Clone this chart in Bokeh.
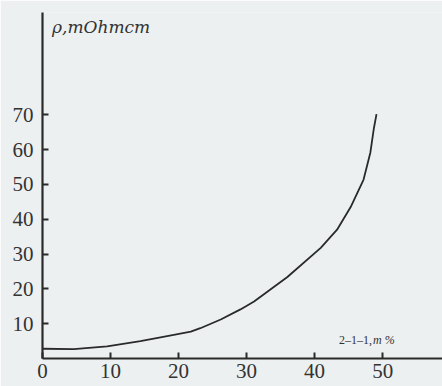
from bokeh.plotting import figure
from bokeh.models import Range1d, FixedTicker, Label
from bokeh.embed import file_html
from bokeh.resources import INLINE

# data
content_pct = [0, 4.6, 9.5, 14.4, 19.3, 21.8, 23.2, 26.2, 29.1, 31.1, 36.0, 40.9, 43.3, 45.3, 47.2, 48.2, 48.7, 49.1]
resistivity = [2.8, 2.7, 3.5, 5.0, 6.8, 7.7, 8.7, 11.2, 14.1, 16.4, 23.4, 31.8, 37.0, 43.5, 51.4, 59.2, 66.0, 70.2]
x_ticks = [0, 10, 20, 30, 40, 50]
y_ticks = [10, 20, 30, 40, 50, 60, 70]
y_title = "ρ,mOhmcm"
x_title_a = "2–1–1,"
x_title_b = "m %"

BG = "#edf0f1"
INK = "#2a2a2a"
FONT = "Liberation Serif"

p = figure(width=442, height=386, output_backend="svg", toolbar_location=None,
           x_range=Range1d(0, 58.8), y_range=Range1d(0, 99.4),
           min_border_left=42, min_border_right=0, min_border_top=12, min_border_bottom=28,
           background_fill_color=BG, border_fill_color=BG, outline_line_color=None)
p.grid.visible = False

for ax in (p.xaxis[0], p.yaxis[0]):
    ax.axis_line_color = INK
    ax.axis_line_width = 2.2
    ax.major_tick_line_color = INK
    ax.major_tick_line_width = 2
    ax.major_tick_in = 6
    ax.major_tick_out = 0
    ax.minor_tick_line_color = None
    ax.major_label_text_font = FONT
    ax.major_label_text_font_size = "21px"
    ax.major_label_text_color = "#333333"

p.xaxis[0].ticker = FixedTicker(ticks=x_ticks)
p.yaxis[0].ticker = FixedTicker(ticks=y_ticks)
p.xaxis[0].major_label_standoff = 5
p.yaxis[0].major_label_standoff = 9

p.line(content_pct, resistivity, line_color=INK, line_width=1.8, line_join="round")

p.add_layout(Label(x=1.4, y=92.3, text=y_title, text_font="DejaVu Serif", text_font_style="italic",
                   text_font_size="17px", text_color="#333333"))
p.add_layout(Label(x=43.6, y=3.2, text=x_title_a, text_font=FONT,
                   text_font_size="12px", text_color="#333333"))
p.add_layout(Label(x=48.6, y=3.2, text=x_title_b, text_font=FONT, text_font_style="italic",
                   text_font_size="12px", text_color="#333333"))

open("out.html", "w").write(file_html(p, INLINE))
